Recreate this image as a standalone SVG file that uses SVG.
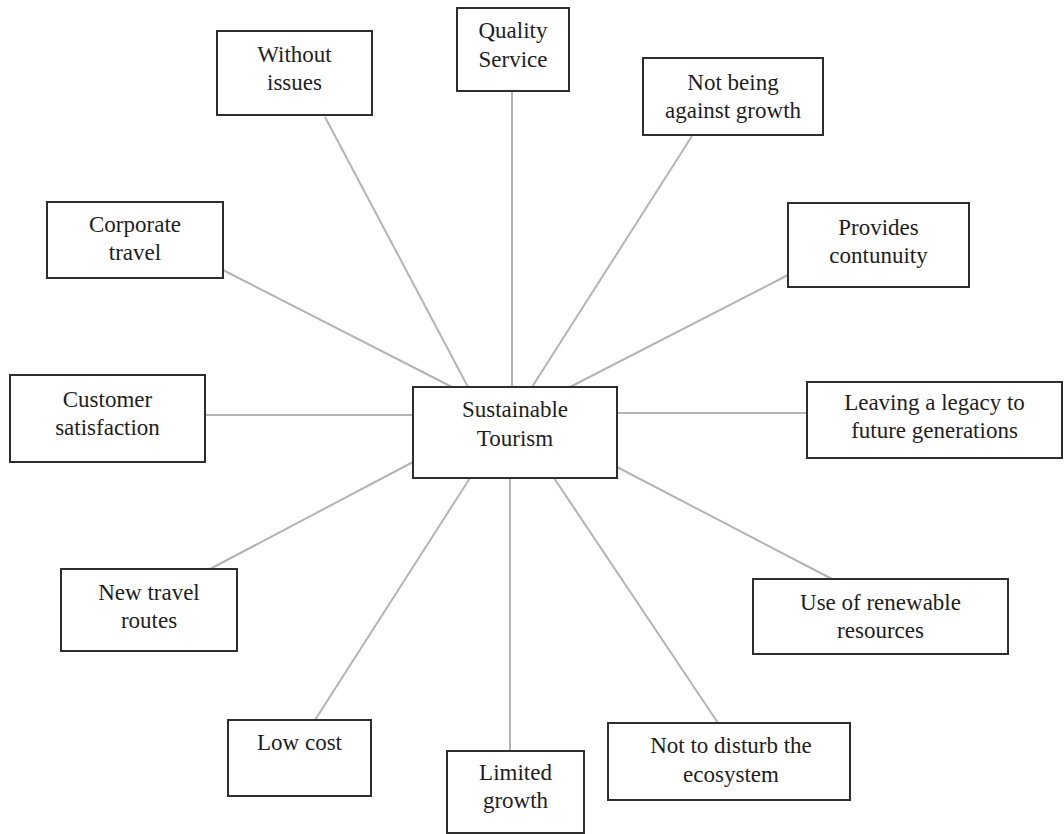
<svg xmlns="http://www.w3.org/2000/svg" width="1064" height="834" viewBox="0 0 1064 834">
  <style>
    .box { fill: #ffffff; stroke: #2e2e2e; stroke-width: 2; }
    .lbl { font-family: "Liberation Serif", "Times New Roman", serif; font-size: 23px; fill: #1e1e1e; text-anchor: middle; }
    .link { stroke: #b4b4b4; stroke-width: 2; fill: none; }
  </style>
  <rect width="1064" height="834" fill="#ffffff"/>

  <!-- spokes from the central concept -->
  <g id="connectors">
    <line class="link" x1="512" y1="91" x2="512" y2="387"/>
    <line class="link" x1="325" y1="117" x2="468" y2="387"/>
    <line class="link" x1="692" y1="136" x2="532" y2="387"/>
    <line class="link" x1="223" y1="270" x2="452" y2="387"/>
    <line class="link" x1="788" y1="275" x2="570" y2="387"/>
    <line class="link" x1="205" y1="415" x2="413" y2="415"/>
    <line class="link" x1="617" y1="413" x2="807" y2="413"/>
    <line class="link" x1="210" y1="569" x2="413" y2="462"/>
    <line class="link" x1="832" y1="579" x2="617" y2="467"/>
    <line class="link" x1="315" y1="720" x2="470" y2="478"/>
    <line class="link" x1="510" y1="478" x2="510" y2="751"/>
    <line class="link" x1="718" y1="723" x2="554" y2="478"/>
  </g>

  <g id="center">
    <rect class="box" x="413" y="387" width="204" height="91"/>
    <text class="lbl" x="515" y="417">Sustainable</text>
    <text class="lbl" x="515" y="446">Tourism</text>
  </g>

  <g id="quality-service">
    <rect class="box" x="457" y="8" width="112" height="83"/>
    <text class="lbl" x="513" y="38">Quality</text>
    <text class="lbl" x="513" y="67">Service</text>
  </g>

  <g id="without-issues">
    <rect class="box" x="217" y="31" width="155" height="84"/>
    <text class="lbl" x="294.5" y="62">Without</text>
    <text class="lbl" x="294.5" y="90">issues</text>
  </g>

  <g id="not-against-growth">
    <rect class="box" x="643" y="58" width="180" height="77"/>
    <text class="lbl" x="733" y="90">Not being</text>
    <text class="lbl" x="733" y="118">against growth</text>
  </g>

  <g id="corporate-travel">
    <rect class="box" x="47" y="202" width="176" height="76"/>
    <text class="lbl" x="135" y="232">Corporate</text>
    <text class="lbl" x="135" y="260">travel</text>
  </g>

  <g id="provides-continuity">
    <rect class="box" x="788" y="203" width="181" height="84"/>
    <text class="lbl" x="878.5" y="235">Provides</text>
    <text class="lbl" x="878.5" y="263">contunuity</text>
  </g>

  <g id="customer-satisfaction">
    <rect class="box" x="10" y="375" width="195" height="87"/>
    <text class="lbl" x="107.5" y="407">Customer</text>
    <text class="lbl" x="107.5" y="435">satisfaction</text>
  </g>

  <g id="legacy">
    <rect class="box" x="807" y="382" width="255" height="76"/>
    <text class="lbl" x="934.5" y="410">Leaving a legacy to</text>
    <text class="lbl" x="934.5" y="438">future generations</text>
  </g>

  <g id="new-travel-routes">
    <rect class="box" x="61" y="569" width="176" height="82"/>
    <text class="lbl" x="149" y="600">New travel</text>
    <text class="lbl" x="149" y="628">routes</text>
  </g>

  <g id="renewable-resources">
    <rect class="box" x="753" y="579" width="255" height="75"/>
    <text class="lbl" x="880.5" y="610">Use of renewable</text>
    <text class="lbl" x="880.5" y="638">resources</text>
  </g>

  <g id="low-cost">
    <rect class="box" x="228" y="720" width="143" height="76"/>
    <text class="lbl" x="299.5" y="750">Low cost</text>
  </g>

  <g id="limited-growth">
    <rect class="box" x="447" y="751" width="137" height="82"/>
    <text class="lbl" x="515.5" y="780">Limited</text>
    <text class="lbl" x="515.5" y="808">growth</text>
  </g>

  <g id="ecosystem">
    <rect class="box" x="608" y="723" width="242" height="77"/>
    <text class="lbl" x="731" y="753">Not to disturb the</text>
    <text class="lbl" x="731" y="782">ecosystem</text>
  </g>
</svg>
